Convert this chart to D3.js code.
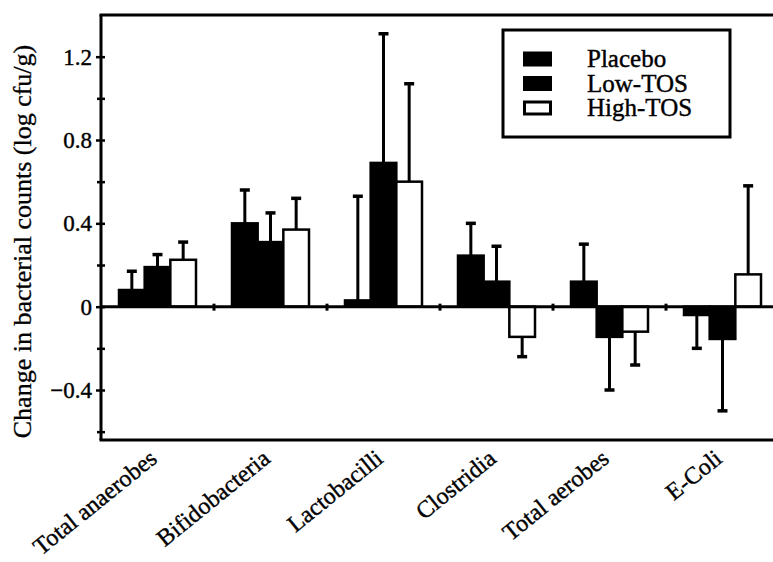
<!DOCTYPE html>
<html>
<head>
<meta charset="utf-8">
<script src="https://cdn.jsdelivr.net/npm/d3@7"></script>
<style>
  html, body { margin:0; padding:0; background:#fff; }
</style>
</head>
<body>
<div id="chart"></div>
<script>
// data
const categories = ["Total anaerobes","Bifidobacteria","Lactobacilli","Clostridia","Total aerobes","E-Coli"];
const series = ["Placebo","Low-TOS","High-TOS"];
const placebo    = [0.08, 0.40, 0.03, 0.245, 0.12, -0.04];
const placeboErr = [0.09, 0.16, 0.50, 0.155, 0.18, 0.16];
const lowTOS     = [0.19, 0.31, 0.69, 0.12, -0.145, -0.155];
const lowTOSErr  = [0.06, 0.14, 0.62, 0.17, 0.255, 0.345];
const highTOS    = [0.225, 0.37, 0.60, -0.145, -0.12, 0.155];
const highTOSErr = [0.085, 0.15, 0.47, 0.095, 0.16, 0.425];
const majorTicks = [-0.4, 0, 0.4, 0.8, 1.2];
const minorTicks = [-0.6, -0.2, 0.2, 0.6, 1.0];

const W = 773, H = 562;
const FONT = '"Times New Roman", Times, "Liberation Serif", serif';
const svg = d3.select('#chart').append('svg').attr('width', W).attr('height', H);

const pl = 101, pr = 779, pt = 15, pb = 440;
const x0 = d3.scaleBand().domain(categories).range([pl, pr]);
const x1 = d3.scaleBand().domain(series).range([18, 95]);
const y = d3.scaleLinear().domain([-0.64, 1.4]).range([pb, pt]);

const fills = {"Placebo":"#000", "Low-TOS":"#000", "High-TOS":"#fff"};
const vals = {"Placebo":placebo, "Low-TOS":lowTOS, "High-TOS":highTOS};
const errs = {"Placebo":placeboErr, "Low-TOS":lowTOSErr, "High-TOS":highTOSErr};

const rows = [];
categories.forEach((c,i)=>{
  series.forEach(s=>{
    rows.push({cat:c, s, v:vals[s][i], e:errs[s][i]});
  });
});

// error bars (drawn first so bars sit on top)
const eb = svg.append('g').attr('stroke','#000').attr('stroke-width',3);
rows.forEach(d=>{
  const cx = x0(d.cat) + x1(d.s) + x1.bandwidth()/2;
  const end = d.v >= 0 ? d.v + d.e : d.v - d.e;
  eb.append('line').attr('x1',cx).attr('x2',cx).attr('y1',y(d.v)).attr('y2',y(end));
  eb.append('line').attr('x1',cx-5).attr('x2',cx+5).attr('y1',y(end)).attr('y2',y(end)).attr('stroke-width',3.5);
});

// bars
svg.append('g').selectAll('rect').data(rows).join('rect')
  .attr('x', d=>x0(d.cat)+x1(d.s))
  .attr('width', x1.bandwidth())
  .attr('y', d=>y(Math.max(0,d.v)))
  .attr('height', d=>Math.abs(y(d.v)-y(0)))
  .attr('fill', d=>fills[d.s])
  .attr('stroke','#000').attr('stroke-width',2.5);

// frame
const frame = svg.append('g').attr('stroke','#000').attr('stroke-width',3).attr('fill','none');
frame.append('line').attr('x1',pl).attr('x2',pl).attr('y1',pt).attr('y2',pb);
frame.append('line').attr('x1',pl-1.5).attr('x2',W).attr('y1',pt).attr('y2',pt);
frame.append('line').attr('x1',pl-1.5).attr('x2',W).attr('y1',pb).attr('y2',pb);
frame.append('line').attr('x1',pl).attr('x2',W).attr('y1',y(0)).attr('y2',y(0));

// y axis
const ay = svg.append('g').attr('transform',`translate(${pl},0)`)
  .call(d3.axisLeft(y).tickValues(majorTicks).tickSize(5).tickPadding(4).tickFormat(d=>d===0?'0':d3.format('.1f')(d)));
ay.attr('font-family', FONT).attr('font-size', 23);
ay.select('.domain').remove();
ay.selectAll('line').attr('stroke-width',2.5);
ay.selectAll('text').attr('fill','#000').attr('stroke','#000').attr('stroke-width',0.4);
const ay2 = svg.append('g').attr('transform',`translate(${pl},0)`)
  .call(d3.axisRight(y).tickValues(majorTicks.concat(minorTicks)).tickSize(4).tickFormat(''));
ay2.select('.domain').remove();
ay2.selectAll('line').attr('stroke-width',2.5);
const ay3 = svg.append('g').attr('transform',`translate(${pl},0)`)
  .call(d3.axisLeft(y).tickValues(minorTicks).tickSize(4).tickFormat(''));
ay3.select('.domain').remove();
ay3.selectAll('line').attr('stroke-width',2.5);

// category boundary ticks on zero line
const bounds = categories.slice(1).map(c=>x0(c));
svg.append('g').selectAll('line').data(bounds).join('line')
  .attr('x1',d=>d).attr('x2',d=>d).attr('y1',y(0)-3).attr('y2',y(0)+4)
  .attr('stroke','#000').attr('stroke-width',3);

// category labels
svg.append('g').selectAll('text').data(categories).join('text')
  .attr('transform', d=>`translate(${x0(d)+x0.bandwidth()/2+1},${pb+21}) rotate(-39)`)
  .attr('text-anchor','end')
  .attr('font-family', FONT)
  .attr('font-size',24)
  .attr('fill','#000').attr('stroke','#000').attr('stroke-width',0.4)
  .text(d=>d);

// y title
svg.append('text')
  .attr('transform',`translate(31,${(pt+pb)/2+14}) rotate(-90)`)
  .attr('text-anchor','middle')
  .attr('font-family', FONT)
  .attr('font-size',26)
  .attr('fill','#000').attr('stroke','#000').attr('stroke-width',0.3)
  .text('Change in bacterial counts (log cfu/g)');

// legend
const lg = svg.append('g');
lg.append('rect').attr('x',503).attr('y',30).attr('width',227).attr('height',107)
  .attr('fill','#fff').attr('stroke','#000').attr('stroke-width',3);
series.forEach((s,i)=>{
  const cy = 59 + i*24.5;
  if (fills[s] === '#000') {
    lg.append('rect').attr('x',523).attr('y',cy-7.5).attr('width',29).attr('height',15).attr('fill','#000');
  } else {
    lg.append('rect').attr('x',524.5).attr('y',cy-6).attr('width',26).attr('height',12)
      .attr('fill','#fff').attr('stroke','#000').attr('stroke-width',3);
  }
  lg.append('text').attr('x',587).attr('y',cy+8)
    .attr('font-family', FONT).attr('font-size',25)
    .attr('fill','#000').attr('stroke','#000').attr('stroke-width',0.4).text(s);
});
</script>
</body>
</html>
